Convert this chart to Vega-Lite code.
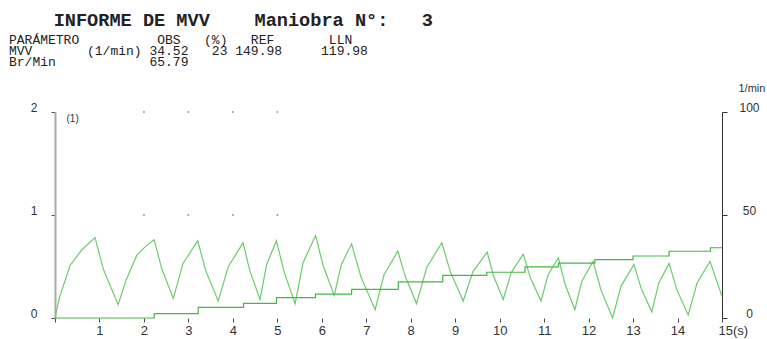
{
  "$schema": "https://vega.github.io/schema/vega-lite/v6.json",
  "width": 667,
  "height": 206,
  "autosize": {"type": "none"},
  "padding": {"left": 55, "top": 112, "right": 45, "bottom": 21},
  "background": "white",
  "config": {
    "view": {"stroke": null},
    "axis": {"grid": false, "labelOverlap": false, "labelFont": "Liberation Sans", "labelFontSize": 12, "labelColor": "#333", "titleFont": "Liberation Sans", "titleFontSize": 11, "titleFontWeight": "normal", "titleColor": "#333"}
  },
  "title": {
    "text": "\u200b\u00a0\u00a0\u00a0\u00a0INFORME DE MVV\u00a0\u00a0\u00a0\u00a0Maniobra N°:\u00a0\u00a0\u00a03",
    "subtitle": [
      "PARÁMETRO\u00a0\u00a0\u00a0\u00a0\u00a0\u00a0\u00a0\u00a0\u00a0\u00a0OBS\u00a0\u00a0\u00a0(%)\u00a0\u00a0\u00a0REF\u00a0\u00a0\u00a0\u00a0\u00a0\u00a0\u00a0LLN",
      "MVV\u00a0\u00a0\u00a0\u00a0\u00a0\u00a0\u00a0(1/min)\u00a034.52\u00a0\u00a0\u00a023\u00a0149.98\u00a0\u00a0\u00a0\u00a0\u00a0119.98",
      "Br/Min\u00a0\u00a0\u00a0\u00a0\u00a0\u00a0\u00a0\u00a0\u00a0\u00a0\u00a0\u00a065.79"
    ],
    "anchor": "start",
    "frame": "group",
    "dx": -46,
    "offset": 13,
    "font": "Liberation Mono",
    "fontSize": 18.6,
    "fontWeight": "bold",
    "color": "#222",
    "subtitleFont": "Liberation Mono",
    "subtitleFontSize": 13,
    "subtitleLineHeight": 11,
    "subtitlePadding": 4,
    "subtitleColor": "#222"
  },
  "datasets": {
    "grid": [
      {"t": 2, "v": 1}, {"t": 3, "v": 1}, {"t": 4, "v": 1}, {"t": 5, "v": 1},
      {"t": 2, "v": 2}, {"t": 3, "v": 2}, {"t": 4, "v": 2}, {"t": 5, "v": 2}
    ],
    "volume": [
      {"t": 0, "v": 0}, {"t": 0.1, "v": 0.2}, {"t": 0.34, "v": 0.51}, {"t": 0.6, "v": 0.66}, {"t": 0.9, "v": 0.78},
      {"t": 1.09, "v": 0.47}, {"t": 1.42, "v": 0.13},
      {"t": 1.6, "v": 0.37}, {"t": 1.84, "v": 0.61}, {"t": 2.05, "v": 0.7}, {"t": 2.23, "v": 0.76},
      {"t": 2.4, "v": 0.48}, {"t": 2.66, "v": 0.19},
      {"t": 2.88, "v": 0.53}, {"t": 3.21, "v": 0.75},
      {"t": 3.39, "v": 0.46}, {"t": 3.67, "v": 0.165},
      {"t": 3.9, "v": 0.5}, {"t": 4.23, "v": 0.73},
      {"t": 4.38, "v": 0.46}, {"t": 4.61, "v": 0.18},
      {"t": 4.76, "v": 0.52}, {"t": 4.98, "v": 0.75},
      {"t": 5.15, "v": 0.45}, {"t": 5.4, "v": 0.14},
      {"t": 5.58, "v": 0.54}, {"t": 5.86, "v": 0.8},
      {"t": 6.03, "v": 0.51}, {"t": 6.28, "v": 0.22},
      {"t": 6.44, "v": 0.52}, {"t": 6.67, "v": 0.72},
      {"t": 6.88, "v": 0.4}, {"t": 7.2, "v": 0.08},
      {"t": 7.4, "v": 0.42}, {"t": 7.71, "v": 0.65},
      {"t": 7.88, "v": 0.4}, {"t": 8.13, "v": 0.14},
      {"t": 8.36, "v": 0.49}, {"t": 8.7, "v": 0.73},
      {"t": 8.89, "v": 0.45}, {"t": 9.18, "v": 0.165},
      {"t": 9.4, "v": 0.45}, {"t": 9.72, "v": 0.64},
      {"t": 9.86, "v": 0.41}, {"t": 10.08, "v": 0.18},
      {"t": 10.26, "v": 0.44}, {"t": 10.53, "v": 0.62},
      {"t": 10.69, "v": 0.39}, {"t": 10.93, "v": 0.165},
      {"t": 11.09, "v": 0.42}, {"t": 11.32, "v": 0.585},
      {"t": 11.47, "v": 0.33}, {"t": 11.69, "v": 0.08},
      {"t": 11.85, "v": 0.36}, {"t": 12.1, "v": 0.55},
      {"t": 12.28, "v": 0.27}, {"t": 12.54, "v": 0.0},
      {"t": 12.73, "v": 0.31}, {"t": 13.02, "v": 0.52},
      {"t": 13.18, "v": 0.29}, {"t": 13.42, "v": 0.06},
      {"t": 13.58, "v": 0.34}, {"t": 13.81, "v": 0.53},
      {"t": 13.98, "v": 0.28}, {"t": 14.24, "v": 0.03},
      {"t": 14.44, "v": 0.34}, {"t": 14.73, "v": 0.55},
      {"t": 15.0, "v": 0.21}
    ],
    "mvv": [
      {"t": 0, "f": 0}, {"t": 2.23, "f": 2.1}, {"t": 3.22, "f": 5.2}, {"t": 4.24, "f": 7.1},
      {"t": 4.98, "f": 9.9}, {"t": 5.86, "f": 11.6}, {"t": 6.67, "f": 13.9}, {"t": 7.72, "f": 17.5},
      {"t": 8.72, "f": 20.7}, {"t": 9.71, "f": 22.2}, {"t": 10.57, "f": 24.8}, {"t": 11.32, "f": 26.6},
      {"t": 12.14, "f": 28.3}, {"t": 13.0, "f": 30.1}, {"t": 13.81, "f": 32.4}, {"t": 14.74, "f": 34.1},
      {"t": 15, "f": 34.1}
    ]
  },
  "layer": [
    {
      "data": {"name": "grid"},
      "mark": {"type": "point", "filled": true, "size": 4, "color": "#999", "opacity": 1},
      "encoding": {
        "x": {
          "field": "t", "type": "quantitative",
          "scale": {"domain": [0, 15], "nice": false},
          "axis": {
            "values": [0, 1, 2, 3, 4, 5, 6, 7, 8, 9, 10, 11, 12, 13, 14, 15],
            "labelExpr": "datum.value == 15 ? '15(s)' : (datum.value == 0 ? '' : datum.label)",
            "labelAlign": {"condition": {"test": "datum.value == 15", "value": "left"}, "value": "center"},
            "labelOffset": {"condition": {"test": "datum.value == 15", "value": -4}, "value": 0},
            "domain": false,
            "tickColor": "#444",
            "tickSize": 4,
            "labelPadding": 2,
            "labelFontSize": 13,
            "title": null
          }
        },
        "y": {"field": "v", "type": "quantitative", "scale": {"domain": [0, 2], "nice": false}, "axis": null}
      }
    },
    {
      "data": {"name": "volume"},
      "mark": {"type": "line", "color": "#6ccb6c", "strokeWidth": 1.2},
      "encoding": {
        "x": {"field": "t", "type": "quantitative"},
        "y": {
          "field": "v", "type": "quantitative",
          "scale": {"domain": [0, 2], "nice": false},
          "axis": {
            "orient": "left",
            "values": [0, 1, 2],
            "labelExpr": "datum.value == 1 ? '1' : datum.value == 2 ? '2' : '0'",
            "domainColor": "#aaa",
            "domainWidth": 2,
            "tickColor": "#555",
            "tickSize": 4,
            "labelPadding": 14,
            "labelAlign": "right",
            "labelBaseline": "alphabetic",
            "labelOffset": -1,
            "labelOverlap": false,
            "title": "(1)",
            "titleAngle": 0,
            "titleX": 11,
            "titleY": 9,
            "titleAlign": "left",
            "titleBaseline": "alphabetic",
            "titleFontSize": 10
          }
        }
      }
    },
    {
      "data": {"name": "mvv"},
      "mark": {"type": "line", "interpolate": "step-after", "color": "#44b844", "strokeWidth": 1.2},
      "encoding": {
        "x": {"field": "t", "type": "quantitative"},
        "y": {
          "field": "f", "type": "quantitative",
          "scale": {"domain": [0, 100], "nice": false},
          "axis": {
            "orient": "right",
            "values": [0, 50, 100],
            "domainColor": "#333",
            "tickColor": "#333",
            "tickSize": 5,
            "labelPadding": 22,
            "labelAlign": "center",
            "labelBaseline": "alphabetic",
            "labelOffset": -1,
            "title": "1/min",
            "titleAngle": 0,
            "titleX": 16,
            "titleY": -21,
            "titleAlign": "left",
            "titleBaseline": "alphabetic"
          }
        }
      }
    }
  ],
  "resolve": {"scale": {"y": "independent"}}
}
